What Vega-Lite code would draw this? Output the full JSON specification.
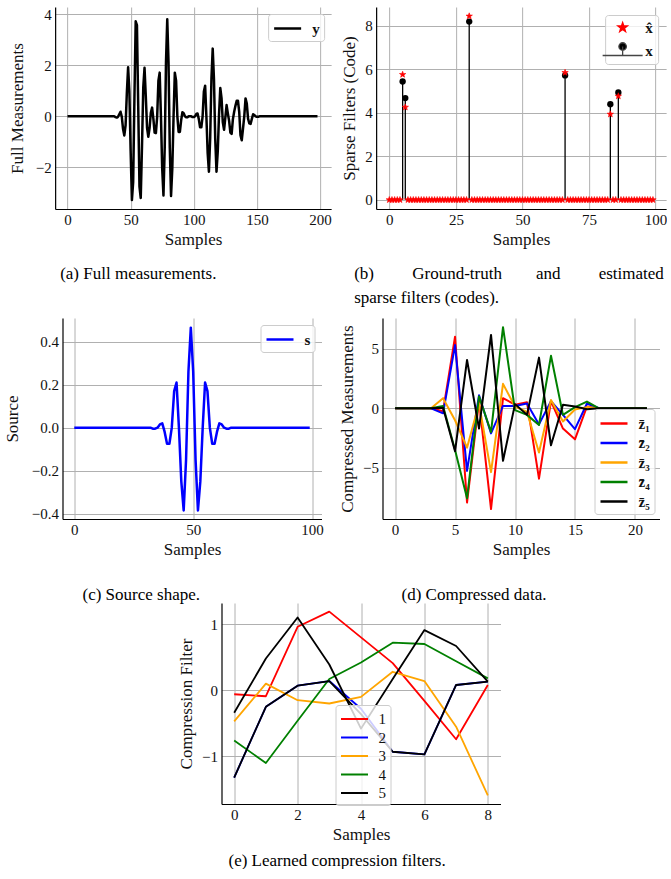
{
"$schema": "https://vega.github.io/schema/vega-lite/v6.json",
"background": "white",
"padding": {"left": 3, "top": 7, "right": 0, "bottom": 0},
"config": {
 "font": "Liberation Serif",
 "view": {"stroke": null},
 "axis": {"labelFont": "Liberation Serif", "labelFontSize": 15, "labelColor": "#111", "titleFont": "Liberation Serif", "titleFontSize": 17, "titleFontWeight": "normal", "titleColor": "#111", "grid": true, "gridColor": "#b0b0b0", "gridWidth": 1, "domainColor": "#000", "domainWidth": 1.2, "ticks": false, "labelPadding": 4, "titlePadding": 6, "labelFlush": false, "labelOverlap": false},
 "axisX": {"labelPadding": 3, "titlePadding": 4},
 "legend": {"fillColor": "rgba(255,255,255,0.8)", "strokeColor": "#cccccc", "cornerRadius": 3, "labelFont": "Liberation Serif", "labelFontSize": 15, "labelColor": "#111", "padding": 4, "rowPadding": 0.5, "symbolStrokeWidth": 2.5},
 "title": {"font": "Liberation Serif", "fontSize": 17, "fontWeight": "normal", "color": "#000"}
},
"datasets": {
 "yfull": [{"n":0,"y":0},{"n":1,"y":0},{"n":2,"y":0},{"n":3,"y":0},{"n":4,"y":0},{"n":5,"y":0},{"n":6,"y":0},{"n":7,"y":0},{"n":8,"y":0},{"n":9,"y":0},{"n":10,"y":0},{"n":11,"y":0},{"n":12,"y":0},{"n":13,"y":0},{"n":14,"y":0},{"n":15,"y":0},{"n":16,"y":0},{"n":17,"y":0},{"n":18,"y":0},{"n":19,"y":0},{"n":20,"y":0},{"n":21,"y":0},{"n":22,"y":0},{"n":23,"y":0},{"n":24,"y":0},{"n":25,"y":0},{"n":26,"y":0},{"n":27,"y":0},{"n":28,"y":0},{"n":29,"y":0},{"n":30,"y":0},{"n":31,"y":0},{"n":32,"y":0},{"n":33,"y":0},{"n":34,"y":0},{"n":35,"y":0},{"n":36,"y":0},{"n":37,"y":0},{"n":38,"y":-0.03},{"n":39,"y":-0.05},{"n":40,"y":-0.02},{"n":41,"y":0.08},{"n":42,"y":0.18},{"n":43,"y":-0.02},{"n":44,"y":-0.5},{"n":45,"y":-0.75},{"n":46,"y":-0.35},{"n":47,"y":0.92},{"n":48,"y":1.92},{"n":49,"y":0.98},{"n":50,"y":-1.35},{"n":51,"y":-3.28},{"n":52,"y":-2.58},{"n":53,"y":0.71},{"n":54,"y":3.72},{"n":55,"y":3.57},{"n":56,"y":0.4},{"n":57,"y":-2.75},{"n":58,"y":-3.2},{"n":59,"y":-1.16},{"n":60,"y":1.13},{"n":61,"y":1.9},{"n":62,"y":0.79},{"n":63,"y":-0.45},{"n":64,"y":-0.8},{"n":65,"y":-0.46},{"n":66,"y":0.14},{"n":67,"y":0.34},{"n":68,"y":-0.09},{"n":69,"y":-0.64},{"n":70,"y":-0.66},{"n":71,"y":-0.02},{"n":72,"y":1.39},{"n":73,"y":1.71},{"n":74,"y":0},{"n":75,"y":-2.04},{"n":76,"y":-3.1},{"n":77,"y":-1.22},{"n":78,"y":2.12},{"n":79,"y":3.8},{"n":80,"y":2.12},{"n":81,"y":-1.22},{"n":82,"y":-3.12},{"n":83,"y":-2.04},{"n":84,"y":0},{"n":85,"y":1.71},{"n":86,"y":1.39},{"n":87,"y":0},{"n":88,"y":-0.61},{"n":89,"y":-0.61},{"n":90,"y":-0.16},{"n":91,"y":0.16},{"n":92,"y":0.12},{"n":93,"y":0},{"n":94,"y":-0.04},{"n":95,"y":-0.04},{"n":96,"y":0},{"n":97,"y":0},{"n":98,"y":0},{"n":99,"y":-0.03},{"n":100,"y":-0.03},{"n":101,"y":0},{"n":102,"y":0.09},{"n":103,"y":0.11},{"n":104,"y":-0.11},{"n":105,"y":-0.43},{"n":106,"y":-0.43},{"n":107,"y":0},{"n":108,"y":0.97},{"n":109,"y":1.2},{"n":110,"y":0},{"n":111,"y":-1.43},{"n":112,"y":-2.17},{"n":113,"y":-0.86},{"n":114,"y":1.48},{"n":115,"y":2.65},{"n":116,"y":1.46},{"n":117,"y":-0.88},{"n":118,"y":-2.17},{"n":119,"y":-1.38},{"n":120,"y":0.06},{"n":121,"y":1.11},{"n":122,"y":0.71},{"n":123,"y":-0.23},{"n":124,"y":-0.53},{"n":125,"y":-0.05},{"n":126,"y":0.44},{"n":127,"y":0.11},{"n":128,"y":-0.18},{"n":129,"y":-0.64},{"n":130,"y":-0.69},{"n":131,"y":-0.11},{"n":132,"y":0.18},{"n":133,"y":0.41},{"n":134,"y":0.61},{"n":135,"y":0.61},{"n":136,"y":0.17},{"n":137,"y":-0.74},{"n":138,"y":-0.94},{"n":139,"y":-0.48},{"n":140,"y":0},{"n":141,"y":0.7},{"n":142,"y":0.5},{"n":143,"y":-0.09},{"n":144,"y":-0.28},{"n":145,"y":-0.3},{"n":146,"y":-0.1},{"n":147,"y":0.08},{"n":148,"y":0.05},{"n":149,"y":0},{"n":150,"y":-0.02},{"n":151,"y":-0.02},{"n":152,"y":0},{"n":153,"y":0},{"n":154,"y":0},{"n":155,"y":0},{"n":156,"y":0},{"n":157,"y":0},{"n":158,"y":0},{"n":159,"y":0},{"n":160,"y":0},{"n":161,"y":0},{"n":162,"y":0},{"n":163,"y":0},{"n":164,"y":0},{"n":165,"y":0},{"n":166,"y":0},{"n":167,"y":0},{"n":168,"y":0},{"n":169,"y":0},{"n":170,"y":0},{"n":171,"y":0},{"n":172,"y":0},{"n":173,"y":0},{"n":174,"y":0},{"n":175,"y":0},{"n":176,"y":0},{"n":177,"y":0},{"n":178,"y":0},{"n":179,"y":0},{"n":180,"y":0},{"n":181,"y":0},{"n":182,"y":0},{"n":183,"y":0},{"n":184,"y":0},{"n":185,"y":0},{"n":186,"y":0},{"n":187,"y":0},{"n":188,"y":0},{"n":189,"y":0},{"n":190,"y":0},{"n":191,"y":0},{"n":192,"y":0},{"n":193,"y":0},{"n":194,"y":0},{"n":195,"y":0},{"n":196,"y":0},{"n":197,"y":0},{"n":198,"y":0}],
 "xtrue": [{"n":5,"v":5.43},{"n":6,"v":4.67},{"n":30,"v":8.18},{"n":66,"v":5.71},{"n":83,"v":4.39},{"n":86,"v":4.93}],
 "xhat": [{"n":0,"v":0},{"n":1,"v":0},{"n":2,"v":0},{"n":3,"v":0},{"n":4,"v":0},{"n":5,"v":5.75},{"n":6,"v":4.25},{"n":7,"v":0},{"n":8,"v":0},{"n":9,"v":0},{"n":10,"v":0},{"n":11,"v":0},{"n":12,"v":0},{"n":13,"v":0},{"n":14,"v":0},{"n":15,"v":0},{"n":16,"v":0},{"n":17,"v":0},{"n":18,"v":0},{"n":19,"v":0},{"n":20,"v":0},{"n":21,"v":0},{"n":22,"v":0},{"n":23,"v":0},{"n":24,"v":0},{"n":25,"v":0},{"n":26,"v":0},{"n":27,"v":0},{"n":28,"v":0},{"n":29,"v":0},{"n":30,"v":8.43},{"n":31,"v":0},{"n":32,"v":0},{"n":33,"v":0},{"n":34,"v":0},{"n":35,"v":0},{"n":36,"v":0},{"n":37,"v":0},{"n":38,"v":0},{"n":39,"v":0},{"n":40,"v":0},{"n":41,"v":0},{"n":42,"v":0},{"n":43,"v":0},{"n":44,"v":0},{"n":45,"v":0},{"n":46,"v":0},{"n":47,"v":0},{"n":48,"v":0},{"n":49,"v":0},{"n":50,"v":0},{"n":51,"v":0},{"n":52,"v":0},{"n":53,"v":0},{"n":54,"v":0},{"n":55,"v":0},{"n":56,"v":0},{"n":57,"v":0},{"n":58,"v":0},{"n":59,"v":0},{"n":60,"v":0},{"n":61,"v":0},{"n":62,"v":0},{"n":63,"v":0},{"n":64,"v":0},{"n":65,"v":0},{"n":66,"v":5.84},{"n":67,"v":0},{"n":68,"v":0},{"n":69,"v":0},{"n":70,"v":0},{"n":71,"v":0},{"n":72,"v":0},{"n":73,"v":0},{"n":74,"v":0},{"n":75,"v":0},{"n":76,"v":0},{"n":77,"v":0},{"n":78,"v":0},{"n":79,"v":0},{"n":80,"v":0},{"n":81,"v":0},{"n":82,"v":0},{"n":83,"v":3.93},{"n":84,"v":0},{"n":85,"v":0},{"n":86,"v":4.76},{"n":87,"v":0},{"n":88,"v":0},{"n":89,"v":0},{"n":90,"v":0},{"n":91,"v":0},{"n":92,"v":0},{"n":93,"v":0},{"n":94,"v":0},{"n":95,"v":0},{"n":96,"v":0},{"n":97,"v":0},{"n":98,"v":0},{"n":99,"v":0}],
 "src": [{"n":0,"s":0},{"n":1,"s":0},{"n":2,"s":0},{"n":3,"s":0},{"n":4,"s":0},{"n":5,"s":0},{"n":6,"s":0},{"n":7,"s":0},{"n":8,"s":0},{"n":9,"s":0},{"n":10,"s":0},{"n":11,"s":0},{"n":12,"s":0},{"n":13,"s":0},{"n":14,"s":0},{"n":15,"s":0},{"n":16,"s":0},{"n":17,"s":0},{"n":18,"s":0},{"n":19,"s":0},{"n":20,"s":0},{"n":21,"s":0},{"n":22,"s":0},{"n":23,"s":0},{"n":24,"s":0},{"n":25,"s":0},{"n":26,"s":0},{"n":27,"s":0},{"n":28,"s":0},{"n":29,"s":0},{"n":30,"s":0},{"n":31,"s":0},{"n":32,"s":0},{"n":33,"s":-0.005},{"n":34,"s":-0.005},{"n":35,"s":0},{"n":36,"s":0.015},{"n":37,"s":0.02},{"n":38,"s":-0.02},{"n":39,"s":-0.075},{"n":40,"s":-0.075},{"n":41,"s":0},{"n":42,"s":0.17},{"n":43,"s":0.21},{"n":44,"s":0},{"n":45,"s":-0.25},{"n":46,"s":-0.385},{"n":47,"s":-0.15},{"n":48,"s":0.26},{"n":49,"s":0.465},{"n":50,"s":0.26},{"n":51,"s":-0.15},{"n":52,"s":-0.385},{"n":53,"s":-0.25},{"n":54,"s":0},{"n":55,"s":0.21},{"n":56,"s":0.17},{"n":57,"s":0},{"n":58,"s":-0.075},{"n":59,"s":-0.075},{"n":60,"s":-0.02},{"n":61,"s":0.02},{"n":62,"s":0.015},{"n":63,"s":0},{"n":64,"s":-0.005},{"n":65,"s":-0.005},{"n":66,"s":0},{"n":67,"s":0},{"n":68,"s":0},{"n":69,"s":0},{"n":70,"s":0},{"n":71,"s":0},{"n":72,"s":0},{"n":73,"s":0},{"n":74,"s":0},{"n":75,"s":0},{"n":76,"s":0},{"n":77,"s":0},{"n":78,"s":0},{"n":79,"s":0},{"n":80,"s":0},{"n":81,"s":0},{"n":82,"s":0},{"n":83,"s":0},{"n":84,"s":0},{"n":85,"s":0},{"n":86,"s":0},{"n":87,"s":0},{"n":88,"s":0},{"n":89,"s":0},{"n":90,"s":0},{"n":91,"s":0},{"n":92,"s":0},{"n":93,"s":0},{"n":94,"s":0},{"n":95,"s":0},{"n":96,"s":0},{"n":97,"s":0},{"n":98,"s":0},{"n":99,"s":0}],
 "comp": [
  {"n":0,"series":"z\u0304\u2081","v":0},{"n":1,"series":"z\u0304\u2081","v":0},{"n":2,"series":"z\u0304\u2081","v":0},{"n":3,"series":"z\u0304\u2081","v":0},{"n":4,"series":"z\u0304\u2081","v":-0.25},{"n":5,"series":"z\u0304\u2081","v":6.0},{"n":6,"series":"z\u0304\u2081","v":-7.9},{"n":7,"series":"z\u0304\u2081","v":0.6},{"n":8,"series":"z\u0304\u2081","v":-8.45},{"n":9,"series":"z\u0304\u2081","v":0.85},{"n":10,"series":"z\u0304\u2081","v":0.3},{"n":11,"series":"z\u0304\u2081","v":0.5},{"n":12,"series":"z\u0304\u2081","v":-5.9},{"n":13,"series":"z\u0304\u2081","v":0.6},{"n":14,"series":"z\u0304\u2081","v":-1.7},{"n":15,"series":"z\u0304\u2081","v":-2.6},{"n":16,"series":"z\u0304\u2081","v":0.15},{"n":17,"series":"z\u0304\u2081","v":0},{"n":18,"series":"z\u0304\u2081","v":0},{"n":19,"series":"z\u0304\u2081","v":0},{"n":20,"series":"z\u0304\u2081","v":0},{"n":21,"series":"z\u0304\u2081","v":0},
  {"n":0,"series":"z\u0304\u2082","v":0},{"n":1,"series":"z\u0304\u2082","v":0},{"n":2,"series":"z\u0304\u2082","v":0},{"n":3,"series":"z\u0304\u2082","v":0},{"n":4,"series":"z\u0304\u2082","v":-0.42},{"n":5,"series":"z\u0304\u2082","v":5.3},{"n":6,"series":"z\u0304\u2082","v":-5.25},{"n":7,"series":"z\u0304\u2082","v":1.1},{"n":8,"series":"z\u0304\u2082","v":-2.1},{"n":9,"series":"z\u0304\u2082","v":0.2},{"n":10,"series":"z\u0304\u2082","v":0.2},{"n":11,"series":"z\u0304\u2082","v":0.4},{"n":12,"series":"z\u0304\u2082","v":-1.35},{"n":13,"series":"z\u0304\u2082","v":0.6},{"n":14,"series":"z\u0304\u2082","v":-0.55},{"n":15,"series":"z\u0304\u2082","v":-1.75},{"n":16,"series":"z\u0304\u2082","v":0.4},{"n":17,"series":"z\u0304\u2082","v":0},{"n":18,"series":"z\u0304\u2082","v":0},{"n":19,"series":"z\u0304\u2082","v":0},{"n":20,"series":"z\u0304\u2082","v":0},{"n":21,"series":"z\u0304\u2082","v":0},
  {"n":0,"series":"z\u0304\u2083","v":0},{"n":1,"series":"z\u0304\u2083","v":0},{"n":2,"series":"z\u0304\u2083","v":0},{"n":3,"series":"z\u0304\u2083","v":0},{"n":4,"series":"z\u0304\u2083","v":0.85},{"n":5,"series":"z\u0304\u2083","v":-1.0},{"n":6,"series":"z\u0304\u2083","v":-3.3},{"n":7,"series":"z\u0304\u2083","v":0.4},{"n":8,"series":"z\u0304\u2083","v":-5.35},{"n":9,"series":"z\u0304\u2083","v":2.05},{"n":10,"series":"z\u0304\u2083","v":0.15},{"n":11,"series":"z\u0304\u2083","v":-0.3},{"n":12,"series":"z\u0304\u2083","v":-3.7},{"n":13,"series":"z\u0304\u2083","v":0.7},{"n":14,"series":"z\u0304\u2083","v":-1.1},{"n":15,"series":"z\u0304\u2083","v":-0.1},{"n":16,"series":"z\u0304\u2083","v":0.1},{"n":17,"series":"z\u0304\u2083","v":0},{"n":18,"series":"z\u0304\u2083","v":0},{"n":19,"series":"z\u0304\u2083","v":0},{"n":20,"series":"z\u0304\u2083","v":0},{"n":21,"series":"z\u0304\u2083","v":0},
  {"n":0,"series":"z\u0304\u2084","v":0},{"n":1,"series":"z\u0304\u2084","v":0},{"n":2,"series":"z\u0304\u2084","v":0},{"n":3,"series":"z\u0304\u2084","v":0},{"n":4,"series":"z\u0304\u2084","v":0.2},{"n":5,"series":"z\u0304\u2084","v":-3.5},{"n":6,"series":"z\u0304\u2084","v":-7.55},{"n":7,"series":"z\u0304\u2084","v":1.0},{"n":8,"series":"z\u0304\u2084","v":-2.0},{"n":9,"series":"z\u0304\u2084","v":6.8},{"n":10,"series":"z\u0304\u2084","v":-0.15},{"n":11,"series":"z\u0304\u2084","v":-0.55},{"n":12,"series":"z\u0304\u2084","v":-1.4},{"n":13,"series":"z\u0304\u2084","v":4.4},{"n":14,"series":"z\u0304\u2084","v":-0.55},{"n":15,"series":"z\u0304\u2084","v":0.1},{"n":16,"series":"z\u0304\u2084","v":0.56},{"n":17,"series":"z\u0304\u2084","v":0},{"n":18,"series":"z\u0304\u2084","v":0},{"n":19,"series":"z\u0304\u2084","v":0},{"n":20,"series":"z\u0304\u2084","v":0},{"n":21,"series":"z\u0304\u2084","v":0},
  {"n":0,"series":"z\u0304\u2085","v":0},{"n":1,"series":"z\u0304\u2085","v":0},{"n":2,"series":"z\u0304\u2085","v":0},{"n":3,"series":"z\u0304\u2085","v":0},{"n":4,"series":"z\u0304\u2085","v":0.05},{"n":5,"series":"z\u0304\u2085","v":-3.6},{"n":6,"series":"z\u0304\u2085","v":4.05},{"n":7,"series":"z\u0304\u2085","v":-1.7},{"n":8,"series":"z\u0304\u2085","v":6.15},{"n":9,"series":"z\u0304\u2085","v":-4.4},{"n":10,"series":"z\u0304\u2085","v":0.35},{"n":11,"series":"z\u0304\u2085","v":-0.55},{"n":12,"series":"z\u0304\u2085","v":4.25},{"n":13,"series":"z\u0304\u2085","v":-3.1},{"n":14,"series":"z\u0304\u2085","v":0.3},{"n":15,"series":"z\u0304\u2085","v":0.15},{"n":16,"series":"z\u0304\u2085","v":-0.08},{"n":17,"series":"z\u0304\u2085","v":0},{"n":18,"series":"z\u0304\u2085","v":0},{"n":19,"series":"z\u0304\u2085","v":0},{"n":20,"series":"z\u0304\u2085","v":0},{"n":21,"series":"z\u0304\u2085","v":0}
 ],
 "filt": [
  {"n":0,"series":"1","v":-0.06},{"n":1,"series":"1","v":-0.09},{"n":2,"series":"1","v":0.96},{"n":3,"series":"1","v":1.19},{"n":4,"series":"1","v":0.8},{"n":5,"series":"1","v":0.41},{"n":6,"series":"1","v":-0.16},{"n":7,"series":"1","v":-0.74},{"n":8,"series":"1","v":0.08},
  {"n":0,"series":"2","v":-1.32},{"n":1,"series":"2","v":-0.25},{"n":2,"series":"2","v":0.07},{"n":3,"series":"2","v":0.14},{"n":4,"series":"2","v":-0.28},{"n":5,"series":"2","v":-0.93},{"n":6,"series":"2","v":-0.97},{"n":7,"series":"2","v":0.08},{"n":8,"series":"2","v":0.13},
  {"n":0,"series":"3","v":-0.47},{"n":1,"series":"3","v":0.1},{"n":2,"series":"3","v":-0.15},{"n":3,"series":"3","v":-0.2},{"n":4,"series":"3","v":-0.1},{"n":5,"series":"3","v":0.28},{"n":6,"series":"3","v":0.14},{"n":7,"series":"3","v":-0.55},{"n":8,"series":"3","v":-1.59},
  {"n":0,"series":"4","v":-0.76},{"n":1,"series":"4","v":-1.1},{"n":2,"series":"4","v":-0.46},{"n":3,"series":"4","v":0.17},{"n":4,"series":"4","v":0.42},{"n":5,"series":"4","v":0.72},{"n":6,"series":"4","v":0.7},{"n":7,"series":"4","v":0.44},{"n":8,"series":"4","v":0.18},
  {"n":0,"series":"5","v":-0.34},{"n":1,"series":"5","v":0.48},{"n":2,"series":"5","v":1.1},{"n":3,"series":"5","v":0.39},{"n":4,"series":"5","v":-0.58},{"n":5,"series":"5","v":0.17},{"n":6,"series":"5","v":0.91},{"n":7,"series":"5","v":0.67},{"n":8,"series":"5","v":0.13}
 ],
 "filtB": [{"n":0,"v":-1.32},{"n":1,"v":-0.25},{"n":2,"v":0.07},{"n":3,"v":0.14},{"n":4,"v":-0.36},{"n":5,"v":-0.93},{"n":6,"v":-0.97},{"n":7,"v":0.08},{"n":8,"v":0.13}]
},
"spacing": 12,
"center": true,
"resolve": {"scale": {"color": "independent", "fill": "independent", "stroke": "independent", "shape": "independent"}, "legend": {"color": "independent", "fill": "independent", "stroke": "independent", "shape": "independent"}},
"vconcat": [
 {
  "spacing": 45,
  "bounds": "flush",
  "resolve": {"scale": {"color": "independent", "fill": "independent", "stroke": "independent", "shape": "independent"}, "legend": {"color": "independent", "fill": "independent", "stroke": "independent", "shape": "independent"}},
  "hconcat": [
   {
    "width": 276, "height": 202,
    "title": {"text": "(a) Full measurements.", "orient": "bottom", "anchor": "start", "frame": "group", "dx": 5, "offset": 19},
    "data": {"name": "yfull"},
    "mark": {"type": "line", "strokeWidth": 2.5, "strokeJoin": "round"},
    "encoding": {
     "x": {"field": "n", "type": "quantitative", "scale": {"domain": [-9.8, 208.8], "nice": false, "zero": false}, "axis": {"values": [0, 50, 100, 150, 200], "title": "Samples"}},
     "y": {"field": "y", "type": "quantitative", "scale": {"domain": [-3.63, 4.28], "nice": false, "zero": false}, "axis": {"values": [-2, 0, 2, 4], "title": "Full Measurements", "titlePadding": 9}},
     "color": {"datum": "y", "type": "nominal", "scale": {"range": ["#000000"]}, "legend": {"title": null, "orient": "top-right", "offset": 7, "symbolType": "M-1.5,0H1.5", "symbolSize": 324, "symbolStrokeWidth": 2.5, "symbolOffset": 5, "labelFontWeight": "bold", "labelOffset": 14}}
    }
   },
   {
    "width": 290, "height": 202,
    "title": {"text": ["(b)\u00a0\u00a0\u00a0\u00a0\u00a0\u00a0\u00a0\u00a0 Ground-truth\u00a0\u00a0\u00a0\u00a0\u00a0\u00a0\u00a0 and\u00a0\u00a0\u00a0\u00a0\u00a0\u00a0\u00a0\u00a0 estimated", "sparse filters (codes)."], "orient": "bottom", "anchor": "start", "frame": "group", "dx": -22, "offset": 19, "lineHeight": 24},
    "layer": [
     {
      "data": {"name": "xtrue"},
      "mark": {"type": "rule", "color": "#000000", "strokeWidth": 1.3},
      "encoding": {
       "x": {"field": "n", "type": "quantitative", "scale": {"domain": [-4.95, 103.95], "nice": false, "zero": false}, "axis": {"values": [0, 25, 50, 75, 100], "title": "Samples"}},
       "y": {"field": "v", "type": "quantitative", "scale": {"domain": [-0.42, 8.85], "nice": false, "zero": false}, "axis": {"values": [0, 2, 4, 6, 8], "title": "Sparse Filters (Code)"}},
       "y2": {"datum": 0}
      }
     },
     {
      "data": {"name": "xtrue"},
      "mark": {"type": "point", "filled": true, "color": "#000000", "size": 40, "opacity": 1},
      "encoding": {
       "x": {"field": "n", "type": "quantitative"},
       "y": {"field": "v", "type": "quantitative"}
      }
     },
     {
      "data": {"name": "xhat"},
      "mark": {"type": "point", "filled": true, "opacity": 1, "strokeWidth": 0.6, "size": 45},
      "encoding": {
       "x": {"field": "n", "type": "quantitative"},
       "y": {"field": "v", "type": "quantitative"},
       "shape": {"datum": "x\u0302", "type": "nominal", "scale": {"domain": ["x\u0302", "x"], "range": ["M0,-1L0.235,-0.324L0.951,-0.309L0.38,0.124L0.588,0.809L0,0.4L-0.588,0.809L-0.38,0.124L-0.951,-0.309L-0.235,-0.324Z", "M-4,1H4M0,1V-0.8M-0.75,-0.8A0.75,0.75,0,1,0,0.75,-0.8A0.75,0.75,0,1,0,-0.75,-0.8Z"]}, "legend": {"title": null, "orient": "top-right", "offset": 8, "labelFontWeight": "bold", "symbolStrokeWidth": 1.3, "symbolOffset": 5, "labelOffset": 15, "rowPadding": 4, "padding": 5}},
       "fill": {"datum": "x\u0302", "type": "nominal", "scale": {"domain": ["x\u0302", "x"], "range": ["#ff0000", "#000000"]}, "legend": {"title": null, "orient": "top-right", "offset": 8, "labelFontWeight": "bold", "symbolStrokeWidth": 1.3, "symbolOffset": 5, "labelOffset": 15, "rowPadding": 4, "padding": 5}},
       "stroke": {"datum": "x\u0302", "type": "nominal", "scale": {"domain": ["x\u0302", "x"], "range": ["#ff0000", "#444444"]}, "legend": {"title": null, "orient": "top-right", "offset": 8, "labelFontWeight": "bold", "symbolStrokeWidth": 1.3, "symbolOffset": 5, "labelOffset": 15, "rowPadding": 4, "padding": 5}}
      }
     }
    ]
   }
  ]
 },
 {
  "spacing": 0,
  "center": true,
  "resolve": {"scale": {"color": "independent", "fill": "independent", "stroke": "independent", "shape": "independent"}, "legend": {"color": "independent", "fill": "independent", "stroke": "independent", "shape": "independent"}},
  "vconcat": [
   {
    "spacing": 61,
    "bounds": "flush",
    "resolve": {"scale": {"color": "independent", "fill": "independent", "stroke": "independent", "shape": "independent"}, "legend": {"color": "independent", "fill": "independent", "stroke": "independent", "shape": "independent"}},
    "hconcat": [
     {
      "width": 259, "height": 201,
      "title": {"text": "(c) Source shape.", "orient": "bottom", "anchor": "start", "frame": "group", "dx": 20, "offset": 30},
      "data": {"name": "src"},
      "mark": {"type": "line", "strokeWidth": 2.5, "strokeJoin": "round"},
      "encoding": {
       "x": {"field": "n", "type": "quantitative", "scale": {"domain": [-4.95, 103.95], "nice": false, "zero": false}, "axis": {"values": [0, 50, 100], "title": "Samples"}},
       "y": {"field": "s", "type": "quantitative", "scale": {"domain": [-0.425, 0.51], "nice": false, "zero": false}, "axis": {"values": [-0.4, -0.2, 0, 0.2, 0.4], "format": ".1f", "title": "Source", "titlePadding": 10}},
       "color": {"datum": "s", "type": "nominal", "scale": {"range": ["#0000ff"]}, "legend": {"title": null, "orient": "top-right", "offset": 7, "symbolType": "M-1.5,0H1.5", "symbolSize": 324, "symbolStrokeWidth": 2.5, "symbolOffset": 5, "labelFontWeight": "bold", "labelOffset": 14}}
      }
     },
     {
      "width": 277, "height": 201,
      "title": {"text": "(d) Compressed data.", "orient": "bottom", "anchor": "start", "frame": "group", "dx": 19, "offset": 30},
      "data": {"name": "comp"},
      "mark": {"type": "line", "strokeWidth": 2, "strokeJoin": "round"},
      "encoding": {
       "x": {"field": "n", "type": "quantitative", "scale": {"domain": [-1.05, 22.05], "nice": false, "zero": false}, "axis": {"values": [0, 5, 10, 15, 20], "title": "Samples"}},
       "y": {"field": "v", "type": "quantitative", "scale": {"domain": [-9.28, 7.57], "nice": false, "zero": false}, "axis": {"values": [-5, 0, 5], "title": "Compressed Measurements"}},
       "color": {"field": "series", "type": "nominal", "scale": {"domain": ["z\u0304\u2081", "z\u0304\u2082", "z\u0304\u2083", "z\u0304\u2084", "z\u0304\u2085"], "range": ["#ff0000", "#0000ff", "#ffa500", "#008000", "#000000"]}, "legend": {"title": null, "orient": "bottom-right", "offset": 5, "symbolType": "M-1.5,0H1.5", "symbolSize": 324, "symbolStrokeWidth": 2.5, "symbolOffset": 5, "labelFontWeight": "bold", "labelOffset": 14}}
      }
     }
    ]
   },
   {
    "width": 279, "height": 201,
    "title": {"text": "(e) Learned compression filters.", "orient": "bottom", "anchor": "start", "frame": "group", "dx": 7, "offset": 11},
    "layer": [
     {
      "data": {"name": "filt"},
      "mark": {"type": "line", "strokeWidth": 1.8, "strokeJoin": "round"},
      "encoding": {
       "x": {"field": "n", "type": "quantitative", "scale": {"domain": [-0.4, 8.4], "nice": false, "zero": false}, "axis": {"values": [0, 2, 4, 6, 8], "title": "Samples"}},
       "y": {"field": "v", "type": "quantitative", "scale": {"domain": [-1.72, 1.32], "nice": false, "zero": false}, "axis": {"values": [-1, 0, 1], "format": "d", "title": "Compression Filter"}},
       "color": {"field": "series", "type": "nominal", "scale": {"domain": ["1", "2", "3", "4", "5"], "range": ["#ff0000", "#0000ff", "#ffa500", "#008000", "#000000"]}, "legend": {"title": null, "orient": "none", "legendX": 114, "legendY": 102, "symbolType": "M-1.5,0H1.5", "symbolSize": 324, "symbolStrokeWidth": 2, "symbolOffset": 5, "labelOffset": 14}}
      }
     },
     {
      "data": {"name": "filtB"},
      "mark": {"type": "line", "strokeWidth": 1.8, "strokeJoin": "round", "color": "#000000"},
      "encoding": {
       "x": {"field": "n", "type": "quantitative"},
       "y": {"field": "v", "type": "quantitative"}
      }
     }
    ]
   }
  ]
 }
]
}
